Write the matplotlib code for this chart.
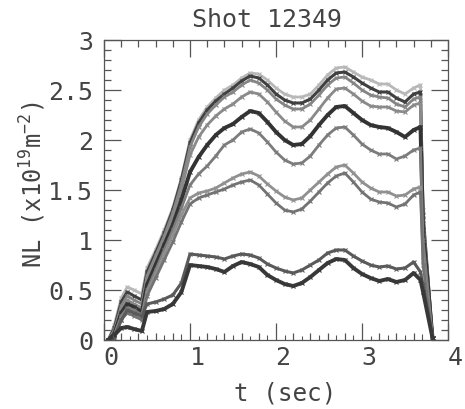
import matplotlib
matplotlib.use("Agg")
import matplotlib.pyplot as plt
import matplotlib.transforms as mtransforms
from matplotlib.ticker import MultipleLocator

plt.rcParams['font.family'] = ['DejaVu Sans Mono', 'DejaVu Sans']
plt.rcParams['mathtext.fontset'] = 'custom'
plt.rcParams['mathtext.rm'] = 'DejaVu Sans Mono'
plt.rcParams['mathtext.it'] = 'DejaVu Sans Mono'

# ---- data ----
t = [0.05, 0.12, 0.2, 0.27, 0.35, 0.44, 0.5, 0.6, 0.7, 0.8, 0.9, 1.0, 1.1, 1.2, 1.3, 1.4,
     1.5, 1.6, 1.7, 1.8, 1.9, 2.0, 2.1, 2.2, 2.3, 2.4, 2.5, 2.6, 2.7, 2.8, 2.9, 3.0, 3.1,
     3.2, 3.3, 3.4, 3.5, 3.6, 3.68, 3.71, 3.82]

nl_1 = [0.0, 0.15, 0.42, 0.53, 0.5, 0.46, 0.72, 0.9, 1.1, 1.32, 1.62, 2.0, 2.2, 2.33, 2.42, 2.5,
        2.55, 2.62, 2.67, 2.66, 2.6, 2.52, 2.46, 2.43, 2.43, 2.46, 2.55, 2.65, 2.72, 2.73, 2.68,
        2.63, 2.6, 2.56, 2.56, 2.5, 2.46, 2.52, 2.55, 1.3, 0.02]
nl_2 = [0.0, 0.12, 0.38, 0.48, 0.44, 0.4, 0.68, 0.87, 1.07, 1.3, 1.6, 1.97, 2.17, 2.3, 2.39, 2.46,
        2.52, 2.59, 2.64, 2.62, 2.55, 2.46, 2.4, 2.37, 2.37, 2.41, 2.5, 2.6, 2.67, 2.68, 2.63,
        2.57, 2.52, 2.48, 2.48, 2.42, 2.38, 2.46, 2.48, 1.25, 0.02]
nl_3 = [0.0, 0.1, 0.34, 0.44, 0.4, 0.36, 0.64, 0.84, 1.04, 1.27, 1.56, 1.93, 2.13, 2.26, 2.35, 2.43,
        2.48, 2.55, 2.6, 2.57, 2.5, 2.41, 2.35, 2.31, 2.31, 2.36, 2.45, 2.55, 2.62, 2.63, 2.57,
        2.5, 2.45, 2.43, 2.42, 2.36, 2.33, 2.41, 2.43, 1.2, 0.02]
nl_4 = [0.0, 0.08, 0.3, 0.4, 0.36, 0.32, 0.6, 0.8, 1.0, 1.22, 1.5, 1.85, 2.03, 2.15, 2.24, 2.31,
        2.36, 2.43, 2.48, 2.46, 2.38, 2.28, 2.19, 2.13, 2.13, 2.2, 2.31, 2.42, 2.51, 2.52, 2.46,
        2.39, 2.34, 2.33, 2.33, 2.29, 2.28, 2.35, 2.37, 1.2, 0.02]
nl_5 = [0.0, 0.06, 0.27, 0.36, 0.33, 0.28, 0.55, 0.75, 0.95, 1.15, 1.4, 1.68, 1.83, 1.95, 2.05, 2.12,
        2.16, 2.23, 2.29, 2.27, 2.18, 2.08, 2.0, 1.95, 1.96, 2.04, 2.15, 2.25, 2.33, 2.34, 2.27,
        2.2, 2.15, 2.13, 2.12, 2.08, 2.03, 2.1, 2.13, 1.1, 0.02]
nl_6 = [0.0, 0.05, 0.24, 0.32, 0.3, 0.25, 0.5, 0.7, 0.9, 1.1, 1.32, 1.55, 1.66, 1.74, 1.84, 1.95,
        2.0, 2.08, 2.11, 2.07, 1.98, 1.88, 1.8, 1.76, 1.77, 1.84, 1.95, 2.05, 2.12, 2.13, 2.05,
        1.96, 1.9, 1.86, 1.86, 1.81, 1.84, 1.9, 1.92, 1.0, 0.02]
nl_7 = [0.0, 0.04, 0.22, 0.3, 0.27, 0.22, 0.47, 0.66, 0.86, 1.05, 1.25, 1.42, 1.47, 1.49, 1.52, 1.57,
        1.62, 1.66, 1.68, 1.64, 1.56, 1.49, 1.43, 1.4, 1.42, 1.5, 1.58, 1.66, 1.73, 1.75, 1.67,
        1.58, 1.52, 1.48, 1.48, 1.44, 1.45, 1.51, 1.53, 0.8, 0.02]
nl_8 = [0.0, 0.03, 0.2, 0.27, 0.24, 0.2, 0.44, 0.62, 0.8, 0.98, 1.18, 1.36, 1.42, 1.45, 1.48, 1.51,
        1.55, 1.58, 1.6, 1.55, 1.46, 1.37, 1.3, 1.28, 1.31, 1.39, 1.48, 1.57, 1.64, 1.67, 1.58,
        1.48, 1.41, 1.38, 1.37, 1.33, 1.36, 1.45, 1.48, 0.75, 0.02]
nl_9 = [0.0, 0.02, 0.2, 0.3, 0.27, 0.24, 0.36, 0.38, 0.41, 0.45, 0.57, 0.86, 0.85, 0.84, 0.83, 0.81,
        0.84, 0.86, 0.85, 0.82, 0.76, 0.72, 0.69, 0.67, 0.7, 0.75, 0.8, 0.87, 0.9, 0.9, 0.84,
        0.79, 0.75, 0.73, 0.74, 0.71, 0.72, 0.78, 0.68, 0.55, 0.02]
nl_10 = [0.0, 0.05, 0.12, 0.13, 0.11, 0.09, 0.28, 0.29, 0.31, 0.36, 0.48, 0.75, 0.74, 0.73, 0.71, 0.68,
         0.74, 0.78, 0.76, 0.73, 0.65, 0.6, 0.56, 0.54, 0.57, 0.63, 0.7, 0.77, 0.81, 0.8, 0.72,
         0.66, 0.62, 0.59, 0.61, 0.58, 0.6, 0.67, 0.6, 0.48, 0.02]

baseline_t = [0.1, 0.3, 0.5, 0.7, 0.9, 1.1, 1.3, 1.5, 1.7, 1.9, 2.1, 2.3, 2.5, 2.7, 2.9, 3.1, 3.3, 3.5, 3.7]
baseline_v = [0.02, 0.01, 0.02, 0.02, 0.03, 0.01, 0.02, 0.02, 0.01, 0.02, 0.02, 0.01, 0.02, 0.02, 0.02, 0.01, 0.02, 0.02, 0.03]

series = [nl_1, nl_2, nl_3, nl_4, nl_5, nl_6, nl_7, nl_8, nl_9, nl_10]
colors = ['#b8b8b8', '#404040', '#858585', '#8a8a8a', '#333333', '#7c7c7c', '#909090', '#737373', '#5a5a5a', '#383838']
widths = [2.0, 2.2, 2.0, 2.0, 2.8, 2.0, 2.0, 2.0, 2.2, 2.8]

title = 'Shot 12349'
xticks = [0, 1, 2, 3, 4]
yticks = [0, 0.5, 1, 1.5, 2, 2.5, 3]
ytick_labels = ['0', '0.5', '1', '1.5', '2', '2.5', '3']

# ---- figure ----
fig = plt.figure(figsize=(4.65, 4.09), dpi=100)
ax = fig.add_axes([104 / 465, 1 - 340 / 409, 344 / 465, 300 / 409])

for vals, c, lw in zip(series, colors, widths):
    ax.plot(t, vals, color=c, lw=lw, marker='x', ms=2.5, mew=0.8, solid_joinstyle='round')
ax.plot(baseline_t, baseline_v, ls='none', marker='|', ms=4, color='#555555', mew=0.8)

ax.set_xlim(0, 4)
ax.set_ylim(0, 3)
ax.set_xticks(xticks)
ax.set_yticks(yticks)
ax.set_yticklabels(ytick_labels)
ax.xaxis.set_minor_locator(MultipleLocator(0.2))
ax.yaxis.set_minor_locator(MultipleLocator(0.1))
ax.tick_params(which='both', direction='in', top=True, right=True, color='#555555', width=0.9)
ax.tick_params(which='major', length=12, labelsize=18, labelcolor='#444444')
ax.tick_params(axis='y', which='major', pad=8)
ax.tick_params(axis='x', which='major', pad=4)
ax.tick_params(which='minor', length=5)
for s in ax.spines.values():
    s.set_color('#555555')
    s.set_linewidth(0.9)

off = mtransforms.ScaledTranslation(7 / 100, 0, fig.dpi_scale_trans)
for lab in ax.get_xticklabels():
    lab.set_transform(lab.get_transform() + off)

fig.text(267 / 465, 1 - 20 / 409, title, ha='center', va='center', fontsize=18, color='#444444')
fig.text(285 / 465, 1 - 393 / 409, 't (sec)', ha='center', va='center', fontsize=17.5, color='#444444')
fig.text(33 / 465, 1 - 185 / 409, 'NL (x10$^{19}$m$^{-2}$)', ha='center', va='center',
         rotation=90, fontsize=17, color='#444444')

fig.savefig('out.png', dpi=100)
